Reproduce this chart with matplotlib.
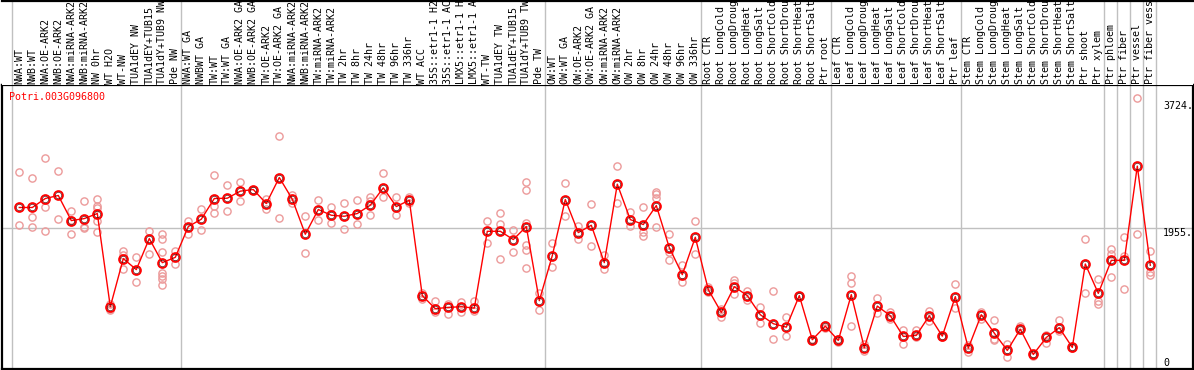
import matplotlib
matplotlib.use('Agg')
import matplotlib.pyplot as plt
from matplotlib.transforms import blended_transform_factory

GENE = "Potri.003G096800"

labels = [
    "NWA:WT", "NWB:WT", "NWA:OE-ARK2", "NWB:OE-ARK2", "NWA:miRNA-ARK2", "NWB:miRNA-ARK2",
    "NW 0hr", "WT H2O", "WT-NW", "TUA1dEY NW", "TUA1dEY+TUB15", "TUA1dY+TUB9 NW", "Pde NW",
    "NWA:WT GA", "NWBWT GA", "TW:WT", "TW:WT GA", "NWA:OE-ARK2 GA", "NWB:OE-ARK2 GA",
    "TW:OE-ARK2", "TW:OE-ARK2 GA", "NWA:miRNA-ARK2", "NWB:miRNA-ARK2", "TW:miRNA-ARK2",
    "TW:miRNA-ARK2", "TW 2hr", "TW 8hr", "TW 24hr", "TW 48hr", "TW 96hr", "TW 336hr",
    "WT ACC", "35S::etr1-1 H2", "35S::etr1-1 AC", "LMX5::etr1-1 H", "LMX5::etr1-1 A",
    "WT-TW", "TUA1dEY TW", "TUA1dEY+TUB15", "TUA1dY+TUB9 TW", "Pde TW",
    "OW:WT", "OW:WT GA", "OW:OE-ARK2", "OW:OE-ARK2 GA", "OW:miRNA-ARK2", "OW:miRNA-ARK2",
    "OW 2hr", "OW 8hr", "OW 24hr", "OW 48hr", "OW 96hr", "OW 336hr",
    "Root CTR", "Root LongCold", "Root LongDroug", "Root LongHeat", "Root LongSalt",
    "Root ShortCold", "Root ShortDrou", "Root ShortHeat", "Root ShortSalt", "Ptr root",
    "Leaf CTR", "Leaf LongCold", "Leaf LongDroug", "Leaf LongHeat", "Leaf LongSalt",
    "Leaf ShortCold", "Leaf ShortDrou", "Leaf ShortHeat", "Leaf ShortSalt", "Ptr leaf",
    "Stem CTR", "Stem LongCold", "Stem LongDroug", "Stem LongHeat", "Stem LongSalt",
    "Stem ShortCold", "Stem ShortDrou", "Stem ShortHeat", "Stem ShortSalt",
    "Ptr shoot", "Ptr xylem", "Ptr phloem", "Ptr fiber", "Ptr vessel", "Ptr fiber vess",
]

# mean expression per sample
means = [
    2239, 2239, 2364, 2406, 2057, 2085, 2155, 859, 1528, 1375, 1807, 1472, 1546,
    1974, 2076, 2364, 2368, 2466, 2489, 2294, 2656, 2354, 1867, 2211, 2131, 2117,
    2155, 2271, 2512, 2252, 2340, 1013, 832, 850, 859, 840, 1908, 1908, 1793, 1974,
    943, 1570, 2350, 1890, 1992, 1472, 2563, 2071, 2002, 2266, 1681, 1305, 1825,
    1096, 780, 1138, 1013, 748, 623, 575, 1013, 400, 589,
    390, 1027, 288, 868, 734, 446, 460, 734, 450, 999,
    283, 748, 492, 251, 547, 195, 432, 567, 293, 1453, 1045,
    1504, 1504, 2814, 1435,
]

# individual replicates
reps = [
    [2726, 2002], [2643, 2113, 1964], [2921, 2252, 1918], [2740, 2076],
    [2187, 2071, 1876], [2336, 1974, 1954], [2354, 2261, 2225, 2057, 1904],
    [901, 826, 808], [1630, 1584, 1389], [1546, 1208], [1908, 1598],
    [1871, 1807, 1626, 1328, 1282, 1244, 1166], [1630, 1458],
    [2057, 1867], [2215, 1932], [2688, 2257, 2169], [2545, 2197], [2591, 2326],
    [2489, 2480], [2358, 2219], [3232, 2094], [2406, 2298], [2117, 1602],
    [2350, 2071], [2243, 2030], [2298, 1936], [2350, 2016], [2386, 2330, 2141],
    [2716, 2378], [2382, 2141], [2386, 2308], [1054, 965], [937, 784], [901, 762],
    [924, 784], [937, 798], [2048, 1751], [2159, 2016, 1528], [1922, 1626],
    [2587, 2489, 2024, 1723, 1653, 1403], [1054, 818], [1751, 1407],
    [2573, 2127], [1978, 1807], [2294, 1699], [1574, 1389], [2810, 2298],
    [2173, 1982], [2243, 1899, 1843], [2456, 2420, 2372, 1974], [1876, 1620, 1514],
    [1445, 1202], [2057, 1588],
    [1133, 1063], [832, 715], [1226, 1188, 1031], [1073, 947], [850, 637],
    [1082, 404], [710, 450], [1013, 1005], [400, 410], [609, 561],
    [414, 366], [1282, 1194, 595], [344, 241], [975, 776], [784, 687],
    [539, 334], [529, 436], [794, 659], [450, 440], [1180, 840],
    [320, 227], [784, 692], [669, 414, 390], [334, 157], [585, 529], [195, 180],
    [469, 358], [669, 520], [293, 280], [1807, 1054], [1250, 937, 892],
    [1662, 1588, 1277], [1835, 1564, 1105], [3757, 1876], [1640, 1341, 1305],
]

y_ticks = [0, 1955, 3724]
group_breaks = [-1, 12, 40, 52, 62, 72, 83, 84, 85, 86, 87]

W, H = 1194, 370
fig = plt.figure(figsize=(W / 100, H / 100), dpi=100)
fig.patch.set_facecolor('white')

left_px, right_px = 1.5, 1193
top_px, head_px, bot_px = 0.5, 85, 368.5
step = 13.0
x0 = -(19.3 - left_px) / step
x1 = x0 + (right_px - left_px) / step
ytop = 3724 / (bot_px - 100.7) * (bot_px - head_px)

ax = fig.add_axes([left_px / W, (H - bot_px) / H, (right_px - left_px) / W, (bot_px - head_px) / H])
hx = fig.add_axes([left_px / W, (H - head_px) / H, (right_px - left_px) / W, (head_px - top_px) / H])

for a in (ax, hx):
    a.set_xlim(x0, x1)
    a.set_xticks([])
    a.set_yticks([])
    for s in a.spines.values():
        s.set_linewidth(1.6)
        s.set_color('black')
    for b in group_breaks:
        a.axvline(b + 0.42, color='#c0c0c0', lw=1.0, zorder=0)

hx.set_ylim(0, 1)
hx.spines['left'].set_visible(False)
hx.spines['right'].set_visible(False)
hx.spines['bottom'].set_visible(False)

ax.set_ylim(0, ytop)
ax.axhline(1955, color='#c0c0c0', lw=1.0, zorder=0)

mono = 'DejaVu Sans Mono'
fs = 7.2

# rotated sample labels in the header
trans = blended_transform_factory(hx.transData, fig.transFigure)
for i, lab in enumerate(labels):
    hx.text(i, (H - 83.5) / H, lab, transform=trans, rotation=90, ha='center', va='bottom',
            fontsize=fs, family=mono, color='black')

xs = list(range(len(labels)))
for i, r in enumerate(reps):
    ax.plot([i] * len(r), r, ls='none', marker='o', ms=5.2, mfc='none',
            mec='#ec9a9a', mew=1.0, zorder=2)
ax.plot(xs, means, color='red', lw=1.0, zorder=3)
ax.plot(xs, means, ls='none', marker='o', ms=6.4, mfc='none', mec='red', mew=1.3, zorder=4)
ax.plot(xs, means, ls='none', marker='o', ms=4.6, mfc='none', mec='#500000', mew=0.45, zorder=5)

ax.text((9.5 - left_px) / (right_px - left_px), (bot_px - 92) / (bot_px - head_px),
        GENE, transform=ax.transAxes, ha='left', va='top', fontsize=fs, family=mono, color='red')

ytr = blended_transform_factory(fig.transFigure, ax.transData)
for v in y_ticks:
    if v == 0:
        ax.text(1163 / W, v, str(v), transform=ytr, ha='left', va='bottom', fontsize=fs,
                family=mono, color='black')
    else:
        ax.text(1163 / W, v, f"{v}.", transform=ytr, ha='left', va='top', fontsize=fs,
                family=mono, color='black')

fig.savefig('out.png', dpi=100)
